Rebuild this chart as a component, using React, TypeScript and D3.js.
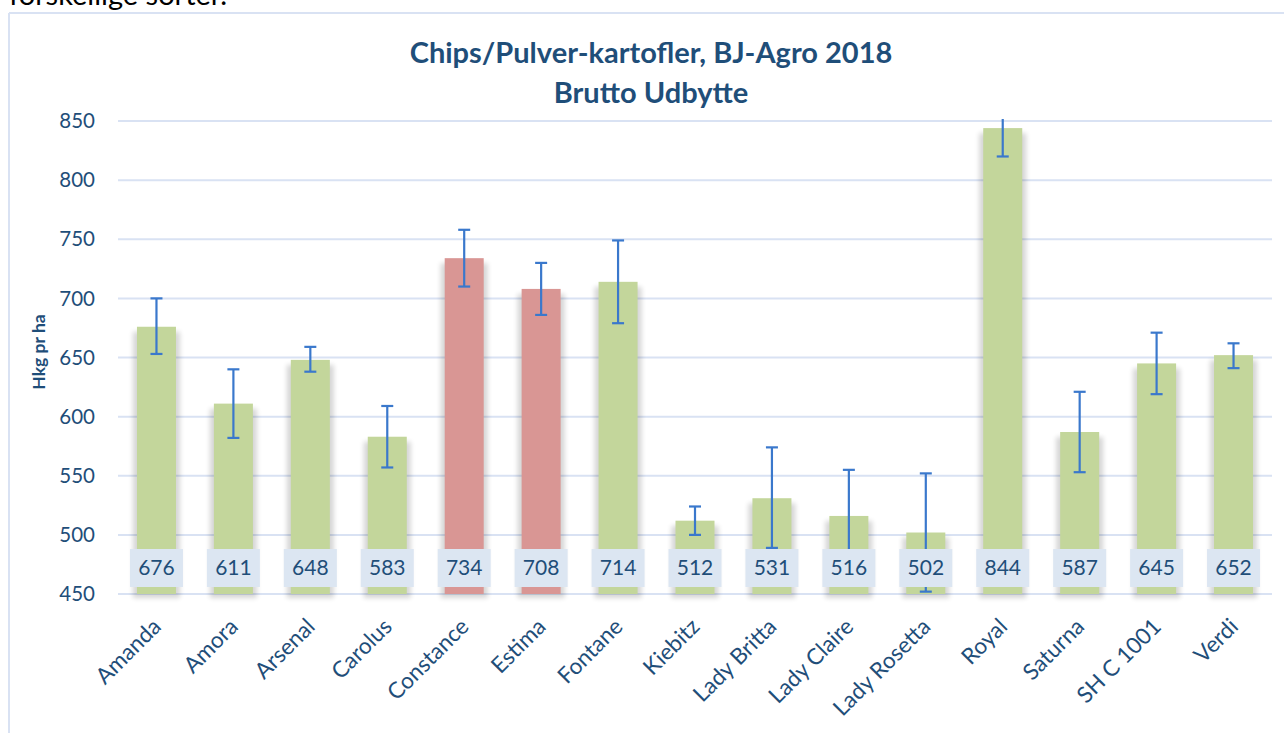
import React from "react";
import * as d3 from "d3";

const categories = ["Amanda", "Amora", "Arsenal", "Carolus", "Constance", "Estima", "Fontane", "Kiebitz", "Lady Britta", "Lady Claire", "Lady Rosetta", "Royal", "Saturna", "SH C 1001", "Verdi"];
const values = [676, 611, 648, 583, 734, 708, 714, 512, 531, 516, 502, 844, 587, 645, 652];
const errLow = [653, 582, 638, 557, 710, 686, 679, 500, 489, 477, 452, 820, 553, 619, 641];
const errHigh = [700, 640, 659, 609, 758, 730, 749, 524, 574, 555, 552, 868, 621, 671, 662];
const highlighted = ["Constance", "Estima"];
const yTicks = [450, 500, 550, 600, 650, 700, 750, 800, 850];
const titleLines = ["Chips/Pulver-kartofler, BJ-Agro 2018", "Brutto Udbytte"];
const yTitle = "Hkg pr ha";
const topText = "forskellige sorter.";

const W = 1284;
const H = 733;
const FONT = "Lato, 'Open Sans', sans-serif";
const TEXT = "#1F4E79";

export default function App() {
  const x = d3.scaleBand<string>().domain(categories).range([118, 1272]).paddingInner(0).paddingOuter(0);
  const y = d3.scaleLinear().domain([450, 850]).range([594, 121]);
  const bw = x.bandwidth() * 0.507;
  const base = y(450);

  return (
    <svg width={W} height={H} style={{ position: "fixed", left: 0, top: 0, display: "block", background: "#fff" }}>
      <defs>
        <filter id="sh" x="-50%" y="-10%" width="200%" height="120%">
          <feGaussianBlur stdDeviation="2.5" />
        </filter>
        <clipPath id="plot">
          <rect x={0} y={y(850) - 2} width={W} height={H} />
        </clipPath>
      </defs>
      <text x={9} y={5} fontFamily={FONT} fontSize={29} fill="#000">{topText}</text>
      <line x1={9} x2={9} y1={13} y2={H} stroke="#D9E2F3" strokeWidth={2} />
      <line x1={9} x2={W} y1={13} y2={13} stroke="#D9E2F3" strokeWidth={2} />

      {titleLines.map((t, i) => (
        <text key={t} x={651} y={63 + i * 40} textAnchor="middle" fontFamily={FONT} fontWeight="bold" fontSize={29} fill={TEXT}>{t}</text>
      ))}

      {yTicks.map((t) => (
        <g key={t}>
          <line x1={118} x2={1272} y1={y(t)} y2={y(t)} stroke="#D9E2F3" strokeWidth={2} />
          <text x={95} y={y(t)} dy="0.35em" textAnchor="end" fontFamily={FONT} fontSize={20.5} fill={TEXT}>{t}</text>
        </g>
      ))}

      <text transform={`translate(45,352) rotate(-90)`} textAnchor="middle" fontFamily={FONT} fontWeight="bold" fontSize={17.5} fill={TEXT}>{yTitle}</text>

      {categories.map((c, i) => {
        const cx = (x(c) as number) + x.bandwidth() / 2;
        const top = y(values[i]);
        return (
          <g key={c}>
            <rect x={cx - bw / 2 - 4} y={top + 5} width={bw + 8} height={base - top - 1} fill="#000" opacity={0.16} filter="url(#sh)" />
            <rect x={cx - bw / 2} y={top} width={bw} height={base - top} fill={highlighted.includes(c) ? "#D99694" : "#C3D69B"} />
          </g>
        );
      })}

      <g clipPath="url(#plot)">
        {categories.map((c, i) => {
          const cx = (x(c) as number) + x.bandwidth() / 2;
          const y1 = y(errHigh[i]);
          const y2 = y(errLow[i]);
          return (
            <g key={c} stroke="#3A78CC" strokeWidth={2.2}>
              <line x1={cx} x2={cx} y1={y1} y2={y2} />
              <line x1={cx - 6} x2={cx + 6} y1={y1} y2={y1} />
              <line x1={cx - 6} x2={cx + 6} y1={y2} y2={y2} />
            </g>
          );
        })}
      </g>

      {categories.map((c, i) => {
        const cx = (x(c) as number) + x.bandwidth() / 2;
        return (
          <g key={c}>
            <rect x={cx - 26.5} y={base - 45} width={53} height={38} fill="#DCE6F2" />
            <text x={cx} y={base - 26} dy="0.35em" textAnchor="middle" fontFamily={FONT} fontSize={21} fill={TEXT}>{values[i]}</text>
            <text transform={`translate(${cx + 6},${base + 34}) rotate(-45)`} textAnchor="end" fontFamily={FONT} fontSize={22.5} fill={TEXT}>{c}</text>
          </g>
        );
      })}
    </svg>
  );
}
